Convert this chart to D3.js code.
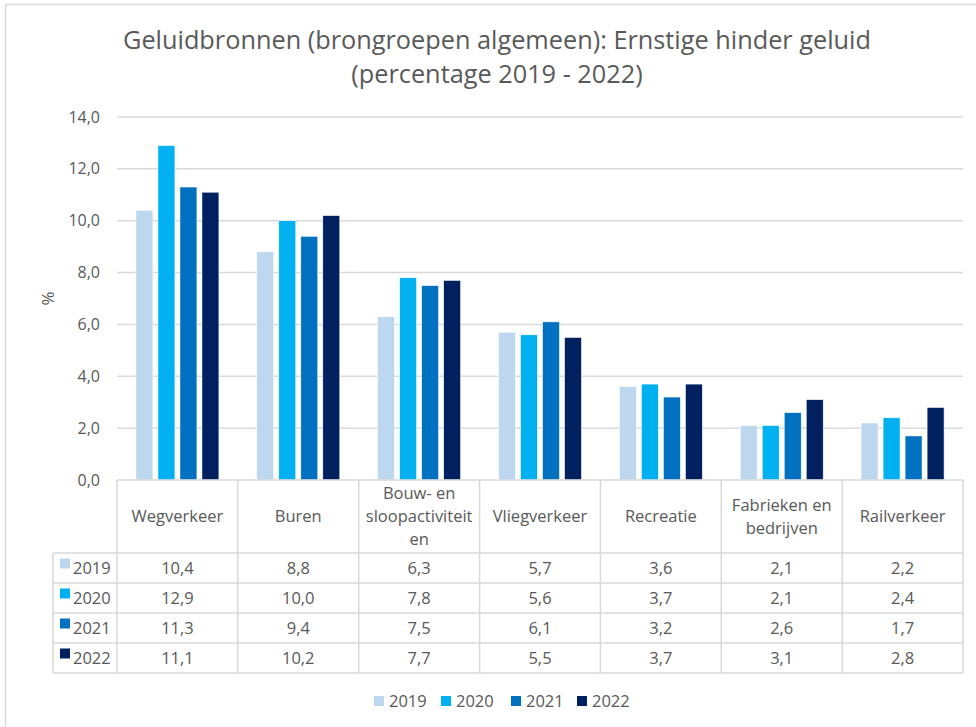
<!DOCTYPE html>
<html><head><meta charset="utf-8">
<script src="https://cdn.jsdelivr.net/npm/d3@7"></script>
<style>body{margin:0;background:#fff;} svg{display:block;} text{font-family:"Open Sans", Lato, sans-serif;}</style>
</head><body>
<svg id="c" width="976" height="727"></svg>
<script>
const categories = ["Wegverkeer","Buren","Bouw- en sloopactiviteiten","Vliegverkeer","Recreatie","Fabrieken en bedrijven","Railverkeer"];
const categoryLines = [["Wegverkeer"],["Buren"],["Bouw- en","sloopactiviteit","en"],["Vliegverkeer"],["Recreatie"],["Fabrieken en","bedrijven"],["Railverkeer"]];
const years = ["2019","2020","2021","2022"];
const v2019 = [10.4, 8.8, 6.3, 5.7, 3.6, 2.1, 2.2];
const v2020 = [12.9, 10.0, 7.8, 5.6, 3.7, 2.1, 2.4];
const v2021 = [11.3, 9.4, 7.5, 6.1, 3.2, 2.6, 1.7];
const v2022 = [11.1, 10.2, 7.7, 5.5, 3.7, 3.1, 2.8];
const yTicks = [0,2,4,6,8,10,12,14];
const colors = ["#BDD7EE","#00B0F0","#0070C0","#002060"];
const series = [v2019, v2020, v2021, v2022];

const svg = d3.select("#c");
const gray = "#595959", line = "#D9D9D9";
const fmt = v => v.toFixed(1).replace(".", ",");
const fs = "16.5px";

// outer border
svg.append("rect").attr("x",5.5).attr("y",4.5).attr("width",980).attr("height",740)
  .attr("fill","none").attr("stroke",line).attr("stroke-width",1.5);

// title
const title = svg.append("text").attr("x",497).attr("text-anchor","middle")
  .attr("fill",gray).style("font-size","25.3px");
title.append("tspan").attr("x",497).attr("y",49).text("Geluidbronnen (brongroepen algemeen): Ernstige hinder geluid");
title.append("tspan").attr("x",497).attr("y",83).text("(percentage 2019 - 2022)");

const pLeft = 117, pRight = 963, pTop = 117, pBottom = 480;
const y = d3.scaleLinear().domain([0,14]).range([pBottom, pTop]);
const xc = d3.scaleBand().domain(categories).range([pLeft,pRight]).padding(0);
const x0 = d3.scaleBand().domain(categories).range([pLeft,pRight]).paddingInner(0.313).paddingOuter(0.1565);
const x1 = d3.scaleBand().domain(years).range([0, x0.bandwidth()]).paddingInner(0.227).paddingOuter(0);

// gridlines
svg.append("g").selectAll("line").data(yTicks.filter(t=>t>0)).join("line")
  .attr("x1",pLeft).attr("x2",pRight).attr("y1",d=>y(d)).attr("y2",d=>y(d))
  .attr("stroke",line).attr("stroke-width",1.5);

// y axis labels
const yAxis = d3.axisLeft(y).tickValues(yTicks).tickFormat(fmt).tickSize(0).tickPadding(0);
const ya = svg.append("g").attr("transform",`translate(${pLeft-17},0)`).call(yAxis);
ya.select(".domain").remove();
ya.selectAll("text").attr("fill",gray).style("font-size","16px").style("font-family","'Open Sans', sans-serif");

svg.append("text").attr("transform",`translate(54,${(pTop+pBottom)/2}) rotate(-90)`)
  .attr("text-anchor","middle").attr("fill",gray).style("font-size","17px").text("%");

// bars
years.forEach((yr,si)=>{
  svg.append("g").selectAll("rect").data(series[si]).join("rect")
    .attr("x",(d,i)=>x0(categories[i])+x1(yr))
    .attr("width",x1.bandwidth())
    .attr("y",d=>y(d)).attr("height",d=>y(0)-y(d))
    .attr("fill",colors[si]).attr("stroke","#fff").attr("stroke-width",0.6);
});

// table
const rowTop = 553, rowH = 30, tableLeft = 53;
const tg = svg.append("g").attr("stroke",line).attr("stroke-width",1.5);
tg.append("line").attr("x1",pLeft).attr("x2",pRight).attr("y1",pBottom).attr("y2",pBottom);
for(let r=0;r<=years.length;r++){
  tg.append("line").attr("x1",tableLeft).attr("x2",pRight).attr("y1",rowTop+r*rowH).attr("y2",rowTop+r*rowH);
}
categories.forEach((c,i)=>{
  tg.append("line").attr("x1",xc(c)).attr("x2",xc(c)).attr("y1",pBottom).attr("y2",rowTop+years.length*rowH);
});
tg.append("line").attr("x1",pRight).attr("x2",pRight).attr("y1",pBottom).attr("y2",rowTop+years.length*rowH);
tg.append("line").attr("x1",tableLeft).attr("x2",tableLeft).attr("y1",rowTop).attr("y2",rowTop+years.length*rowH);

// header labels
categories.forEach((c,i)=>{
  const lines = categoryLines[i];
  const cx = xc(c)+xc.bandwidth()/2;
  const midY = (pBottom+rowTop)/2 + 5.5;
  const lh = 23;
  lines.forEach((l,k)=>{
    svg.append("text").attr("x",cx).attr("y",midY + (k-(lines.length-1)/2)*lh)
      .attr("text-anchor","middle").attr("fill",gray).style("font-size",fs).text(l);
  });
});

// rows
years.forEach((yr,si)=>{
  const cy = rowTop + si*rowH + rowH/2 + 5.5;
  svg.append("rect").attr("x",60).attr("y",cy-15).attr("width",10).attr("height",10).attr("fill",colors[si]);
  svg.append("text").attr("x",73).attr("y",cy).attr("fill",gray).style("font-size",fs).text(yr);
  series[si].forEach((v,i)=>{
    svg.append("text").attr("x",xc(categories[i])+xc.bandwidth()/2).attr("y",cy)
      .attr("text-anchor","middle").attr("fill",gray).style("font-size",fs).text(fmt(v));
  });
});

// legend
const legX = [374,441,511,577];
years.forEach((yr,si)=>{
  svg.append("rect").attr("x",legX[si]).attr("y",696).attr("width",10).attr("height",10).attr("fill",colors[si]);
  svg.append("text").attr("x",legX[si]+15).attr("y",707).attr("fill",gray).style("font-size",fs).text(yr);
});
</script>
</body></html>
